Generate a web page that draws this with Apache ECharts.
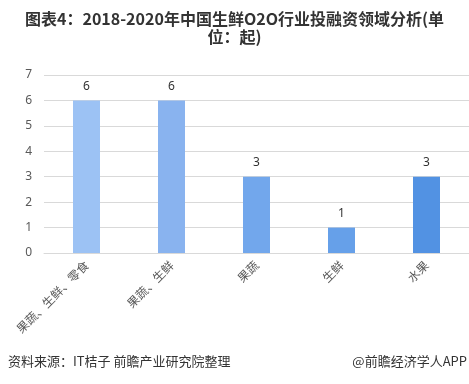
<!DOCTYPE html>
<html><head><meta charset="utf-8">
<script src="https://cdn.jsdelivr.net/npm/echarts@6/dist/echarts.min.js"></script>
<style>html,body{margin:0;padding:0;background:#fff;}#c{width:469px;height:384px;}</style>
</head><body><div id="c"></div>
<script>
const categories = ['果蔬、生鲜、零食', '果蔬、生鲜', '果蔬', '生鲜', '水果'];
const values = [6, 6, 3, 1, 3];
const barColors = ['#9cc2f4', '#89b3ef', '#72a7ec', '#66a0e9', '#5292e3'];
const yTicks = [0, 1, 2, 3, 4, 5, 6, 7];
const titleText = '图表4：2018-2020年中国生鲜O2O行业投融资领域分析(单\n位：起)';
const sourceText = '资料来源：IT桔子 前瞻产业研究院整理';
const brandText = '@前瞻经济学人APP';

const chart = echarts.init(document.getElementById('c'), null, {renderer: 'canvas'});
chart.setOption({
  animation: false,
  backgroundColor: '#fff',
  title: [{
    text: titleText, left: 'center', top: 5,
    textStyle: {fontFamily: 'Noto Sans CJK SC', fontSize: 16, fontWeight: 'bold', color: '#333', lineHeight: 18}
  }],
  graphic: [
    {type: 'text', left: 8, top: 355, style: {text: sourceText, font: '13px "Noto Sans CJK SC"', fill: '#333'}},
    {type: 'text', right: 2, top: 355, style: {text: brandText, font: '13px "Noto Sans CJK SC"', fill: '#333'}}
  ],
  grid: {left: 44, top: 75, width: 430, height: 178, containLabel: false},
  xAxis: {
    type: 'category', data: categories,
    axisLine: {lineStyle: {color: '#d9d9d9'}},
    axisTick: {show: false},
    axisLabel: {rotate: 45, color: '#595959', fontSize: 12, fontFamily: 'Noto Sans CJK SC', margin: 10, interval: 0}
  },
  yAxis: {
    type: 'value', min: yTicks[0], max: yTicks[yTicks.length - 1], interval: 1,
    axisLine: {show: false}, axisTick: {show: false},
    splitLine: {lineStyle: {color: '#d9d9d9'}},
    axisLabel: {color: '#595959', fontSize: 12, fontFamily: 'Noto Sans', margin: 12}
  },
  series: [{
    type: 'bar', barWidth: 27,
    data: values.map((v, i) => ({value: v, itemStyle: {color: barColors[i]}})),
    label: {show: true, position: 'top', distance: 8, color: '#333', fontSize: 12, fontFamily: 'Noto Sans'}
  }]
});
</script></body></html>
